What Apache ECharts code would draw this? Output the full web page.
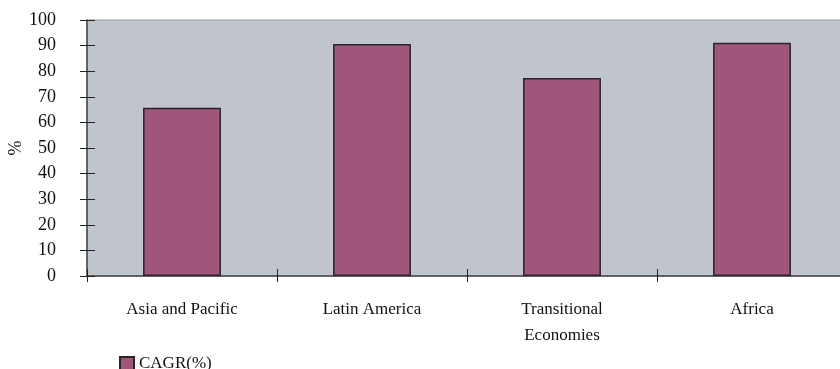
<!DOCTYPE html>
<html>
<head>
<meta charset="utf-8">
<script src="https://cdn.jsdelivr.net/npm/echarts@6/dist/echarts.min.js"></script>
<style>
  html, body { margin: 0; padding: 0; background: #fff; }
  #chart { width: 840px; height: 369px; }
</style>
</head>
<body>
<div id="chart"></div>
<script>
const regions = ["Asia and Pacific", "Latin America", "Transitional\nEconomies", "Africa"];
const cagr = [65.7, 90.6, 77.3, 91.1];
const yTicks = [0, 100, 10];

const chart = echarts.init(document.getElementById("chart"));
const font = "Liberation Serif";

// value axis settings shared by the labelled axis and the inner tick copy
const yBase = {
  type: "value",
  position: "left",
  min: yTicks[0],
  max: yTicks[1],
  interval: yTicks[2],
  splitLine: { show: false },
};
// category axis settings shared by the labelled axis and the outer tick copy
const xBase = {
  type: "category",
  position: "bottom",
  data: regions,
};

chart.setOption({
  animation: false,
  textStyle: { fontFamily: font },
  grid: {
    left: 87,
    top: 20,
    width: 760,
    height: 256,
    outerBoundsMode: "none",
    show: true,
    backgroundColor: "#c0c4cb",
    borderColor: "#9a9a9a",
    borderWidth: 1,
  },
  legend: {
    left: 114,
    top: 350,
    icon: "rect",
    itemWidth: 14,
    itemHeight: 13,
    itemGap: 6,
    textStyle: { fontFamily: font, fontSize: 17, color: "#111" },
    data: ["CAGR(%)"],
  },
  xAxis: [
    Object.assign({}, xBase, {
      axisLine: { lineStyle: { color: "#444", width: 1.5 } },
      axisTick: { show: true, inside: true, length: 7, lineStyle: { color: "#222" } },
      axisLabel: {
        margin: 21,
        color: "#111",
        fontSize: 17,
        fontFamily: font,
        lineHeight: 26,
      },
    }),
    Object.assign({}, xBase, {
      axisLine: { show: false },
      axisTick: { show: true, inside: false, length: 6, lineStyle: { color: "#222" } },
      axisLabel: { show: false },
    }),
  ],
  yAxis: [
    Object.assign({}, yBase, {
      name: "%",
      nameLocation: "middle",
      nameRotate: 90,
      nameGap: 62,
      nameMoveOverlap: false,
      nameTextStyle: { fontFamily: font, fontSize: 18, color: "#111" },
      axisLine: { show: true, lineStyle: { color: "#444", width: 1.5 } },
      axisTick: { show: true, length: 7, lineStyle: { color: "#222" } },
      axisLabel: { color: "#111", fontSize: 18, fontFamily: font, margin: 31 },
    }),
    Object.assign({}, yBase, {
      axisLine: { show: false },
      axisTick: { show: true, inside: true, length: 8, lineStyle: { color: "#222" } },
      axisLabel: { show: false },
    }),
  ],
  series: [
    {
      name: "CAGR(%)",
      type: "bar",
      data: cagr,
      barWidth: "41%",
      itemStyle: { color: "#a0557a", borderColor: "#2a2528", borderWidth: 1.5 },
    },
  ],
});
</script>
</body>
</html>
